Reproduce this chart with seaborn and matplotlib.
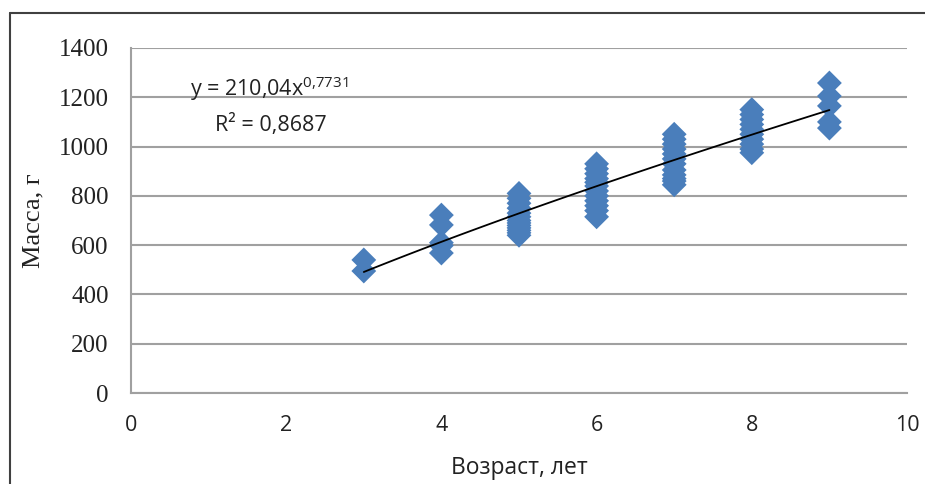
import numpy as np
import pandas as pd
import seaborn as sns
import matplotlib.pyplot as plt
from matplotlib.lines import Line2D

# Возраст (лет) и масса (г) по рыбам
age = [3, 3,
       4, 4, 4, 4, 4,
       5, 5, 5, 5, 5, 5, 5, 5, 5, 5, 5, 5, 5,
       6, 6, 6, 6, 6, 6, 6, 6, 6, 6, 6, 6,
       7, 7, 7, 7, 7, 7, 7, 7, 7, 7, 7, 7,
       8, 8, 8, 8, 8, 8, 8, 8, 8, 8,
       9, 9, 9, 9, 9]
mass = [540, 495,
        722, 682, 610, 598, 568,
        810, 790, 770, 750, 730, 715, 700, 690, 680, 670, 660, 650, 640,
        930, 910, 890, 870, 855, 840, 820, 800, 780, 760, 740, 715,
        1050, 1030, 1010, 990, 970, 950, 930, 905, 885, 870, 860, 845,
        1150, 1130, 1110, 1090, 1070, 1050, 1030, 1010, 990, 975,
        1258, 1205, 1165, 1100, 1075]

# степенной тренд из подписи
coef_a = 210.04
coef_b = 0.7731

df = pd.DataFrame({'age': age, 'mass': mass})

sns.set_style('white')
plt.rcParams['mathtext.fontset'] = 'custom'
plt.rcParams['mathtext.rm'] = 'Open Sans'
plt.rcParams['mathtext.it'] = 'Open Sans'
plt.rcParams['mathtext.default'] = 'rm'

fig = plt.figure(figsize=(9.25, 4.84), dpi=100)
ax = fig.add_axes([131/925, 1 - 393/484, (907-131)/925, (393-48)/484])

sns.scatterplot(x='age', y='mass', data=df, ax=ax, marker='D', s=160,
                color='#4a7ebb', edgecolor='none', zorder=3)

xs = np.linspace(min(age), max(age), 100)
ax.plot(xs, coef_a * xs ** coef_b, color='black', lw=1.3, zorder=4)

ax.set_xlim(0, 10)
ax.set_ylim(0, 1400)
ax.set_xticks([0, 2, 4, 6, 8, 10])
ax.set_yticks(range(0, 1401, 200))
ax.yaxis.grid(True, color='#a0a0a0', lw=1.5)
ax.xaxis.grid(False)
ax.set_axisbelow(True)
for s in ['top', 'right']:
    ax.spines[s].set_visible(False)
for s in ['left', 'bottom']:
    ax.spines[s].set_color('#a0a0a0')
    ax.spines[s].set_linewidth(1.5)

ax.tick_params(axis='y', direction='out', length=5, width=1.5, color='#a0a0a0', pad=11)
ax.tick_params(axis='x', direction='out', length=5, width=1.5, color='#a0a0a0', pad=11)
for t in ax.get_yticklabels():
    t.set_family('Liberation Serif')
    t.set_fontsize(18)
    t.set_color('#222222')
for t in ax.get_xticklabels():
    t.set_family('Open Sans')
    t.set_fontsize(15.5)
    t.set_color('#222222')

ax.set_ylabel('Масса, г', family='Liberation Serif', fontsize=19, color='#222222', labelpad=10)
ax.set_xlabel('Возраст, лет', family='Open Sans', fontsize=16.5, color='#222222', labelpad=14)

ax.text(0.76, 1205, r'y = 210,04x$^{0{,}7731}$', family='Open Sans', fontsize=15.5,
        color='#222222', va='baseline')
ax.text(1.08, 1063, 'R² = 0,8687', family='Open Sans', fontsize=15.5,
        color='#222222', va='baseline')

# рамка области диаграммы
fig.add_artist(Line2D([10/925, 1], [1 - 13/484, 1 - 13/484], color='#404040', lw=1.5,
                      transform=fig.transFigure))
fig.add_artist(Line2D([10/925, 10/925], [0, 1 - 13/484], color='#404040', lw=1.5,
                      transform=fig.transFigure))

fig.savefig('out.png', dpi=100)
